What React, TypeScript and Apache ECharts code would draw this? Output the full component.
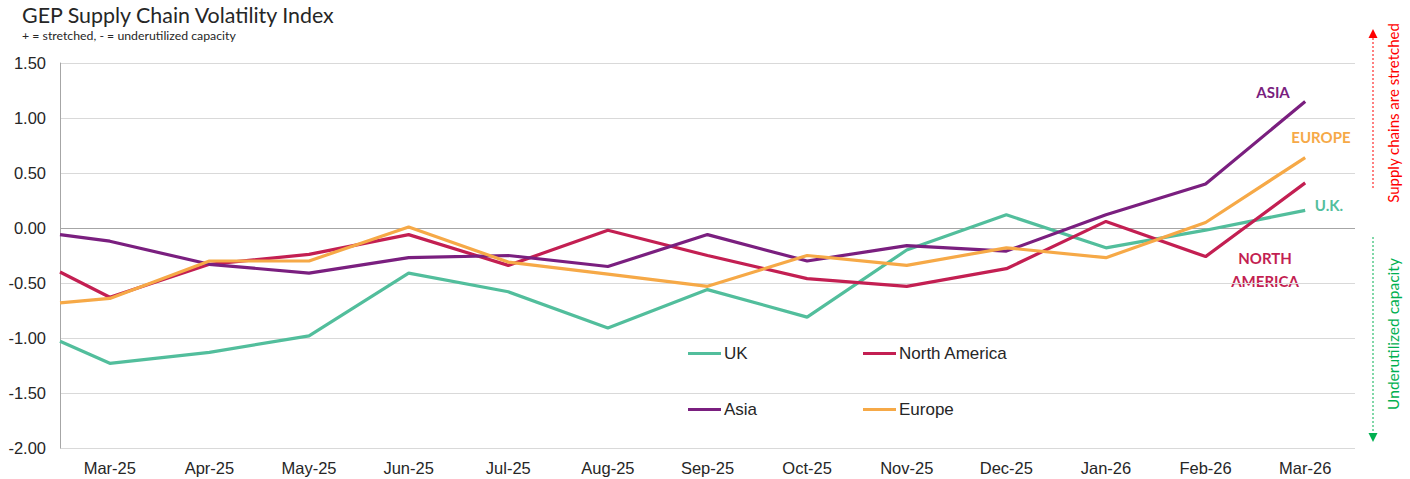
import React, { useEffect, useRef } from "react";
import * as echarts from "echarts";

// Month labels of the x axis (category index 0..12)
const months = ["Mar-25", "Apr-25", "May-25", "Jun-25", "Jul-25", "Aug-25", "Sep-25", "Oct-25", "Nov-25", "Dec-25", "Jan-26", "Feb-26", "Mar-26"];
// x positions of the points: the first point sits on the plot's left edge
const xPositions = [-0.5, 0, 1, 2, 3, 4, 5, 6, 7, 8, 9, 10, 11, 12];

const uk = [-1.03, -1.23, -1.13, -0.98, -0.41, -0.58, -0.91, -0.56, -0.81, -0.2, 0.12, -0.18, -0.02, 0.16];
const northAmerica = [-0.4, -0.63, -0.33, -0.24, -0.06, -0.34, -0.02, -0.25, -0.46, -0.53, -0.37, 0.06, -0.26, 0.41];
const asia = [-0.06, -0.12, -0.33, -0.41, -0.27, -0.25, -0.35, -0.06, -0.3, -0.16, -0.21, 0.12, 0.4, 1.15];
const europe = [-0.68, -0.64, -0.3, -0.3, 0.01, -0.31, -0.42, -0.53, -0.25, -0.34, -0.18, -0.27, 0.05, 0.64];

const seriesNames = ["UK", "North America", "Asia", "Europe"];
const colors = ["#52BE9C", "#C31F52", "#7A1F7F", "#F6A947"];

const yTicks = { min: -2, max: 1.5, interval: 0.5 };

export default function App() {
  const ref = useRef<HTMLDivElement>(null);
  useEffect(() => {
    if (!ref.current) return;
    const chart = echarts.init(ref.current, null, { renderer: "svg" });
    const seriesData = [uk, northAmerica, asia, europe];
    const axisFont = "Liberation Sans, Arial, sans-serif";
    const labelFont = "Lato, Calibri, sans-serif";
    const legendPos = [
      { left: 688, top: 345 },
      { left: 863, top: 345 },
      { left: 688, top: 401 },
      { left: 863, top: 401 },
    ];
    chart.setOption({
      animation: false,
      backgroundColor: "#ffffff",
      grid: { left: 60, right: 55, top: 63, bottom: 31 },
      xAxis: {
        type: "value",
        min: -0.5,
        max: 12.5,
        interval: 0.5,
        axisLine: { show: false },
        axisTick: { show: false },
        splitLine: { show: false },
        axisLabel: {
          color: "#262626",
          fontFamily: axisFont,
          fontSize: 16.5,
          margin: 11,
          showMinLabel: true,
          showMaxLabel: true,
          formatter: (v: number) => (Number.isInteger(v) && v >= 0 && v < months.length ? months[v] : ""),
        },
      },
      yAxis: {
        type: "value",
        min: yTicks.min,
        max: yTicks.max,
        interval: yTicks.interval,
        axisLine: { show: true, onZero: false, lineStyle: { color: "#a6a6a6", width: 1 } },
        axisTick: { show: false },
        splitLine: { show: true, lineStyle: { color: "#d9d9d9", width: 1 } },
        axisLabel: {
          color: "#262626",
          fontFamily: axisFont,
          fontSize: 16.5,
          margin: 14,
          formatter: (v: number) => v.toFixed(2),
        },
      },
      legend: seriesNames.map((name, i) => ({
        data: [name],
        left: legendPos[i].left,
        top: legendPos[i].top,
        padding: 0,
        icon: "rect",
        itemWidth: 33,
        itemHeight: 3,
        itemGap: 0,
        selectedMode: false,
        textStyle: { color: "#262626", fontFamily: axisFont, fontSize: 17, padding: [0, 0, 0, -2] },
      })),
      series: seriesNames.map((name, i) => ({
        name,
        type: "line",
        data: xPositions.map((x, j) => [x, seriesData[i][j]]),
        symbol: "none",
        clip: true,
        lineStyle: { color: colors[i], width: 3.2 },
        itemStyle: { color: colors[i] },
        z: 3 + i,
        markLine:
          i === 0
            ? {
                silent: true,
                symbol: "none",
                label: { show: false },
                lineStyle: { color: "#a6a6a6", type: "solid", width: 1 },
                data: [{ yAxis: 0 }],
                z: 1,
              }
            : undefined,
      })),
      graphic: [
        { type: "text", x: 22, y: 15, style: { text: "GEP Supply Chain Volatility Index", font: "21.4px " + labelFont, fill: "#262626", textVerticalAlign: "middle" } },
        { type: "text", x: 22, y: 35, style: { text: "+ = stretched, - = underutilized capacity", font: "12.3px " + labelFont, fill: "#262626", textVerticalAlign: "middle" } },
        { type: "text", x: 1273, y: 92, style: { text: "ASIA", font: "bold 15px " + labelFont, fill: colors[2], textAlign: "center", textVerticalAlign: "middle" } },
        { type: "text", x: 1321, y: 137, style: { text: "EUROPE", font: "bold 15px " + labelFont, fill: colors[3], textAlign: "center", textVerticalAlign: "middle" } },
        { type: "text", x: 1329, y: 205, style: { text: "U.K.", font: "bold 15px " + labelFont, fill: colors[0], textAlign: "center", textVerticalAlign: "middle" } },
        { type: "text", x: 1265, y: 258, style: { text: "NORTH", font: "bold 15px " + labelFont, fill: colors[1], textAlign: "center", textVerticalAlign: "middle" } },
        { type: "text", x: 1265, y: 281, style: { text: "AMERICA", font: "bold 15px " + labelFont, fill: colors[1], textAlign: "center", textVerticalAlign: "middle" } },
        { type: "line", shape: { x1: 1373, y1: 38, x2: 1373, y2: 190 }, style: { stroke: "#FF0000", lineWidth: 1, lineDash: [2, 2] } },
        { type: "polygon", shape: { points: [[1373, 29], [1368.5, 38], [1377.5, 38]] }, style: { fill: "#FF0000" } },
        { type: "line", shape: { x1: 1373, y1: 237, x2: 1373, y2: 433 }, style: { stroke: "#00B050", lineWidth: 1, lineDash: [2, 2] } },
        { type: "polygon", shape: { points: [[1373, 442], [1368.5, 433], [1377.5, 433]] }, style: { fill: "#00B050" } },
        { type: "text", x: 1393, y: 113, rotation: Math.PI / 2, style: { text: "Supply chains are stretched", font: "15px " + labelFont, fill: "#FF0000", textAlign: "center", textVerticalAlign: "middle" } },
        { type: "text", x: 1393, y: 334, rotation: Math.PI / 2, style: { text: "Underutilized capacity", font: "15.5px " + labelFont, fill: "#00B050", textAlign: "center", textVerticalAlign: "middle" } },
      ],
    });
    return () => chart.dispose();
  }, []);
  return <div ref={ref} style={{ position: "absolute", left: 0, top: 0, width: 1410, height: 479 }} />;
}
